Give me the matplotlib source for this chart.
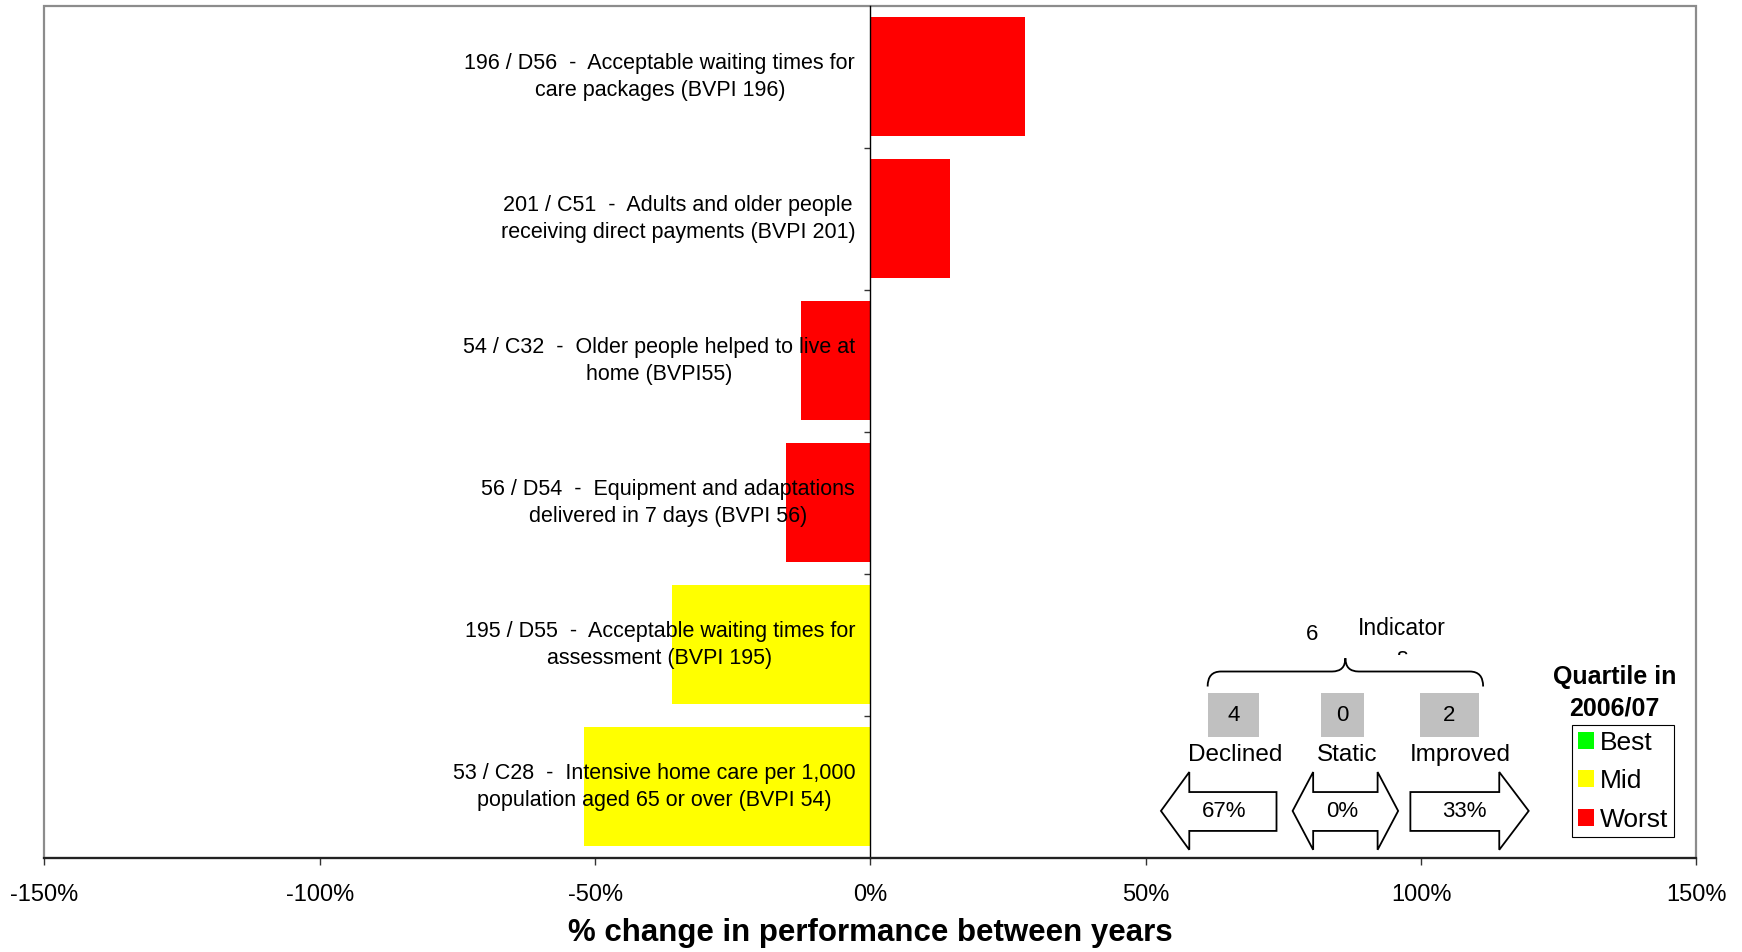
import matplotlib
matplotlib.use("Agg")
import matplotlib.pyplot as plt
from matplotlib.patches import Polygon, Rectangle, Patch
from matplotlib.path import Path
from matplotlib.patches import PathPatch
from matplotlib.ticker import FuncFormatter, FixedLocator

plt.rcParams['font.family'] = ['Liberation Sans', 'DejaVu Sans']
plt.rcParams['axes.unicode_minus'] = False

# ---------------- data ----------------
categories = [
    "196 / D56  -  Acceptable waiting times for\ncare packages (BVPI 196)",
    "201 / C51  -  Adults and older people\nreceiving direct payments (BVPI 201)",
    "54 / C32  -  Older people helped to live at\nhome (BVPI55)",
    "56 / D54  -  Equipment and adaptations\ndelivered in 7 days (BVPI 56)",
    "195 / D55  -  Acceptable waiting times for\nassessment (BVPI 195)",
    "53 / C28  -  Intensive home care per 1,000\npopulation aged 65 or over (BVPI 54)",
]
pct_change = [28.0, 14.5, -12.7, -15.3, -36.1, -52.0]
quartile = ["Worst", "Worst", "Worst", "Worst", "Mid", "Mid"]
quartile_names = ["Best", "Mid", "Worst"]
quartile_colors = {"Best": "#00FF00", "Mid": "#FFFF00", "Worst": "#FF0000"}
x_ticks = [-150, -100, -50, 0, 50, 100, 150]
x_label = "% change in performance between years"

# ---------------- figure ----------------
W, H = 1568.0, 857.0  # layout reference space
fig = plt.figure(figsize=(17.42, 9.52), dpi=100)
ax = fig.add_axes([40 / W, 1 - 772 / H, (1527 - 40) / W, (772 - 5) / H])

n = len(categories)
ypos = list(range(n))
ax.barh(ypos, pct_change, height=0.84,
        color=[quartile_colors[q] for q in quartile], zorder=1)
ax.set_ylim(n - 0.5, -0.5)
ax.set_xlim(x_ticks[0], x_ticks[-1])

# y axis at 0
ax.spines['left'].set_position(('data', 0))
ax.spines['left'].set_color('black')
ax.spines['left'].set_linewidth(1.0)
ax.spines['left'].set_zorder(3)
ax.spines['right'].set_visible(False)
ax.spines['top'].set_visible(False)
ax.spines['bottom'].set_color('#222222')
ax.spines['bottom'].set_linewidth(1.6)
ax.spines['bottom'].set_zorder(4)

# plot-area border
ax.add_patch(Rectangle((0, 0), 1, 1, transform=ax.transAxes, fill=False,
                       edgecolor='#8c8c8c', linewidth=1.6, clip_on=False, zorder=0.5))

ax.set_yticks(ypos)
ax.set_yticklabels(categories, fontsize=15.5)
for t in ax.get_yticklabels():
    t.set_multialignment('center')
    t.set_linespacing(1.38)
    t.set_verticalalignment('center')
ax.tick_params(axis='y', which='major', length=0, pad=11)
ax.yaxis.set_minor_locator(FixedLocator([i + 0.5 for i in range(n - 1)]))
ax.tick_params(axis='y', which='minor', length=4, width=1, direction='out', color='#333333')

ax.set_xticks(x_ticks)
ax.xaxis.set_major_formatter(FuncFormatter(lambda v, p: f"{v:.0f}%"))
ax.tick_params(axis='x', length=5, width=1, direction='out', pad=14, labelsize=17, color='#333333')
ax.set_xlabel(x_label, fontsize=22.5, fontweight='bold', labelpad=9)
ax.patch.set_alpha(0)

# ---------------- overlay annotations ----------------
ov = fig.add_axes([0, 0, 1, 1], zorder=5)
ov.set_xlim(0, W)
ov.set_ylim(H, 0)
ov.axis('off')
ov.patch.set_alpha(0)

declined = sum(1 for v in pct_change if v < 0)
improved = sum(1 for v in pct_change if v > 0)
static = n - declined - improved

# brace
x0, x1, xm = 1087, 1335, 1211
yl, ye, yt, r = 604.5, 618, 592.5, 12
verts = [(x0, ye), (x0, yl), (x0 + r, yl), (xm - r, yl), (xm, yl), (xm, yt),
         (xm, yl), (xm + r, yl), (x1 - r, yl), (x1, yl), (x1, ye)]
codes = [Path.MOVETO, Path.CURVE3, Path.CURVE3, Path.LINETO, Path.CURVE3, Path.CURVE3,
         Path.CURVE3, Path.CURVE3, Path.LINETO, Path.CURVE3, Path.CURVE3]
ov.add_patch(PathPatch(Path(verts, codes), fill=False, edgecolor='black', linewidth=1.3))

ov.text(1181, 571.5, str(n), fontsize=16, ha='center', va='center')
ov.text(1262, 565.5, "Indicator", fontsize=16.5, ha='center', va='center')
s_txt = ov.text(1262, 592, "s", fontsize=16.5, ha='center', va='center')
clip_rect = Rectangle((1200, 570), 120, 19.5, transform=ov.transData, visible=False)
ov.add_patch(clip_rect)
s_txt.set_clip_on(True)
s_txt.set_clip_path(clip_rect)

# count boxes
for (bx0, bx1), val in [((1087, 1133.5), declined), ((1189, 1228), static), ((1278.5, 1331), improved)]:
    ov.add_patch(Rectangle((bx0, 623.5), bx1 - bx0, 40, facecolor='#C0C0C0', edgecolor='none'))
    ov.text((bx0 + bx1) / 2, 644, str(val), fontsize=16, ha='center', va='center')

ov.text(1112, 680, "Declined", fontsize=17.5, ha='center', va='center')
ov.text(1212.5, 680, "Static", fontsize=17.5, ha='center', va='center')
ov.text(1314, 680, "Improved", fontsize=17.5, ha='center', va='center')

# block arrows
ht, st, sb, hb, tip = 695, 713, 748, 765, 730
left_arrow = [(1045, tip), (1070.5, ht), (1070.5, st), (1149, st), (1149, sb), (1070.5, sb), (1070.5, hb)]
both_arrow = [(1163.5, tip), (1182, ht), (1182, st), (1240, st), (1240, ht), (1258.5, tip),
              (1240, hb), (1240, sb), (1182, sb), (1182, hb)]
right_arrow = [(1269.5, st), (1349.5, st), (1349.5, ht), (1376, tip), (1349.5, hb), (1349.5, sb), (1269.5, sb)]
for pts in (left_arrow, both_arrow, right_arrow):
    ov.add_patch(Polygon(pts, closed=True, facecolor='white', edgecolor='black', linewidth=1.3))

ov.text(1102, 730.5, f"{round(100 * declined / n)}%", fontsize=16, ha='center', va='center')
ov.text(1208, 730.5, f"{round(100 * static / n)}%", fontsize=16, ha='center', va='center')
ov.text(1318.5, 730.5, f"{round(100 * improved / n)}%", fontsize=16, ha='center', va='center')

# legend
ov.text(1453, 609.5, "Quartile in", fontsize=18, fontweight='bold', ha='center', va='center')
ov.text(1453, 638, "2006/07", fontsize=18, fontweight='bold', ha='center', va='center')
handles = [Patch(facecolor=quartile_colors[q], edgecolor='none', label=q) for q in quartile_names]
leg = ov.legend(handles=handles, loc='upper left', bbox_to_anchor=(1415, 652.5),
                bbox_transform=ov.transData, fontsize=19, frameon=True, fancybox=False,
                framealpha=1, edgecolor='black', handlelength=0.6, handleheight=0.6,
                handletextpad=0.25, labelspacing=0.55, borderpad=0.22, borderaxespad=0)
leg.get_frame().set_linewidth(0.8)

fig.savefig("out.png", dpi=100)
